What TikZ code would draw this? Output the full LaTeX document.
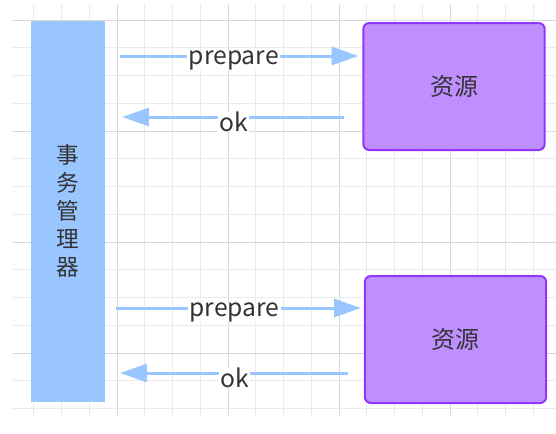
\documentclass[tikz,border=0pt]{standalone}
\usepackage{fontspec}
\setmainfont{Noto Sans CJK SC}
\usetikzlibrary{arrows.meta}
\definecolor{mgr}{RGB}{153,198,255}
\definecolor{arrc}{RGB}{153,198,255}
\definecolor{resfill}{RGB}{192,143,255}
\definecolor{resdraw}{RGB}{145,55,250}
\definecolor{txt}{RGB}{51,51,51}
\definecolor{gminor}{RGB}{234,234,234}
\definecolor{gmajor}{RGB}{216,216,216}
\begin{document}
\begin{tikzpicture}[x=0.75pt,y=-0.75pt,
  mgrbox/.style={rectangle,fill=mgr,draw=none,minimum width=55.5pt,minimum height=285.75pt,inner sep=0pt,
    text=txt,font=\fontsize{17pt}{21pt}\selectfont,align=center},
  resbox/.style={rectangle,rounded corners=4.5pt,fill=resfill,draw=resdraw,line width=1.5pt,
    minimum width=136pt,minimum height=95.25pt,text=txt,font=\fontsize{18pt}{20pt}\selectfont},
  arr/.style={draw=arrc,line width=2.25pt,-{Triangle[length=20pt,width=13.5pt]}},
  lbl/.style={fill=white,inner xsep=1pt,inner ysep=0pt,text=txt,yshift=-3.5pt,
    font=\fontsize{18.5pt}{20pt}\selectfont}]
\useasboundingbox (0,0) rectangle (556,433);
\fill[white] (0,0) rectangle (556,433);
% grid
\foreach \k in {1,...,19}{
  \pgfmathsetmacro\xx{6.2+27.75*\k}
  \pgfmathtruncatemacro\mm{mod(\k,4)}
  \ifnum\mm=0 \draw[gmajor,line width=0.75pt] (\xx,4) -- (\xx,417);
  \else \draw[gminor,line width=0.75pt] (\xx,4) -- (\xx,417); \fi
}
\foreach \k in {0,...,14}{
  \pgfmathsetmacro\yy{20.2+27.75*\k}
  \pgfmathtruncatemacro\mm{mod(\k,4)}
  \ifnum\mm=0 \draw[gmajor,line width=0.75pt] (13,\yy) -- (556,\yy);
  \else \draw[gminor,line width=0.75pt] (13,\yy) -- (556,\yy); \fi
}
% nodes
\node[mgrbox] (tm) at (68,211) {事\\务\\管\\理\\器};
\node[resbox] (r1) at (454,86.5) {资源};
\node[resbox] (r2) at (455.5,339.5) {资源};
% helper coordinates for arrow heights
\coordinate (p1) at (0,56);
\coordinate (o1) at (0,117);
\coordinate (p2) at (0,308);
\coordinate (o2) at (0,373);
% arrows
\draw[arr,shorten <=11.25pt,shorten >=3pt] (tm.east |- p1) -- node[lbl]{prepare} (r1.west |- p1);
\draw[arr,shorten <=13.5pt,shorten >=12.75pt] (r1.west |- o1) -- node[lbl]{ok} (tm.east |- o1);
\draw[arr,shorten <=8.25pt,shorten >=2.25pt] (tm.east |- p2) -- node[lbl]{prepare} (r2.west |- p2);
\draw[arr,shorten <=12pt,shorten >=11.25pt] (r2.west |- o2) -- node[lbl]{ok} (tm.east |- o2);
\end{tikzpicture}
\end{document}
